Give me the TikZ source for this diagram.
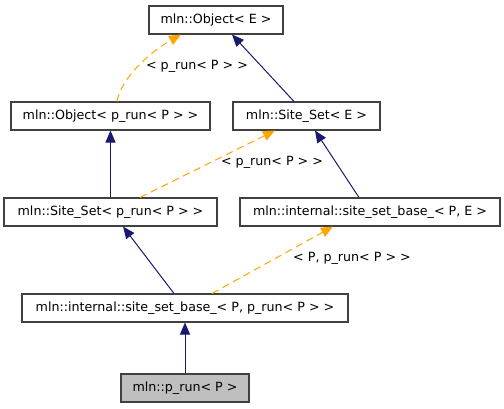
\documentclass[tikz,border=0pt]{standalone}
\usepackage{fontspec}
\setmainfont{DejaVu Sans}
\usetikzlibrary{arrows.meta}
\definecolor{navy}{HTML}{191970}
\definecolor{orng}{HTML}{FFA500}
\definecolor{bord}{HTML}{404040}
\definecolor{fillg}{HTML}{BFBFBF}
\begin{document}
\begin{tikzpicture}[x=0.75pt,y=-0.75pt,
  cls/.style={draw=bord,line width=0.8pt,fill=white,minimum height=21pt,inner sep=0pt,font=\fontsize{9.5}{11}\selectfont},
  inh/.style={navy,line width=0.75pt,-{Triangle[length=9pt,width=7.5pt]}},
  tmpl/.style={orng,line width=0.75pt,dash pattern=on 5.5pt off 3.5pt,-{Triangle[length=9pt,width=7.5pt]}},
  lbl/.style={font=\fontsize{9.5}{11}\selectfont,inner sep=1pt}]
\useasboundingbox (0,0) rectangle (504,408);
\node[cls,minimum width=100.5pt] (b1) at (216,20) {mln::Object< E >};
\node[cls,minimum width=149.25pt] (b2) at (110.5,116) {mln::Object< p\_run< P > >};
\node[cls,minimum width=110.25pt] (b3) at (306.5,116) {mln::Site\_Set< E >};
\node[cls,minimum width=159.75pt] (b4) at (110.5,212) {mln::Site\_Set< p\_run< P > >};
\node[cls,minimum width=195pt] (b5) at (370,212) {mln::internal::site\_set\_base\_< P, E >};
\node[cls,minimum width=244.5pt] (b6) at (185,308) {mln::internal::site\_set\_base\_< P, p\_run< P > >};
\node[cls,minimum width=96pt,fill=fillg] (b7) at (185,388) {mln::p\_run< P >};
% edges
\draw[tmpl] (b2.north -| 117,0) .. controls (121,78) and (150,52) .. (b1.south -| 181,0);
\node[lbl] (l1) at (197,66) {< p\_run< P > >};
\draw[inh] (b3.north -| 294,0) -- (b1.south -| 232,0);
\draw[inh] (b4) -- (b2);
\draw[tmpl] (b4.north -| 140,0) -- (b3.south -| 275,0);
\node[lbl] (l2) at (272,162) {< p\_run< P > >};
\draw[inh] (b5.north -| 359,0) -- (b3.south -| 315,0);
\draw[inh] (b6.north -| 174,0) -- (b4.south -| 123,0);
\draw[tmpl] (b6.north -| 212,0) -- (b5.south -| 333,0);
\node[lbl] (l3) at (352,258) {< P, p\_run< P > >};
\draw[inh] (b7) -- (b6);
\end{tikzpicture}
\end{document}
